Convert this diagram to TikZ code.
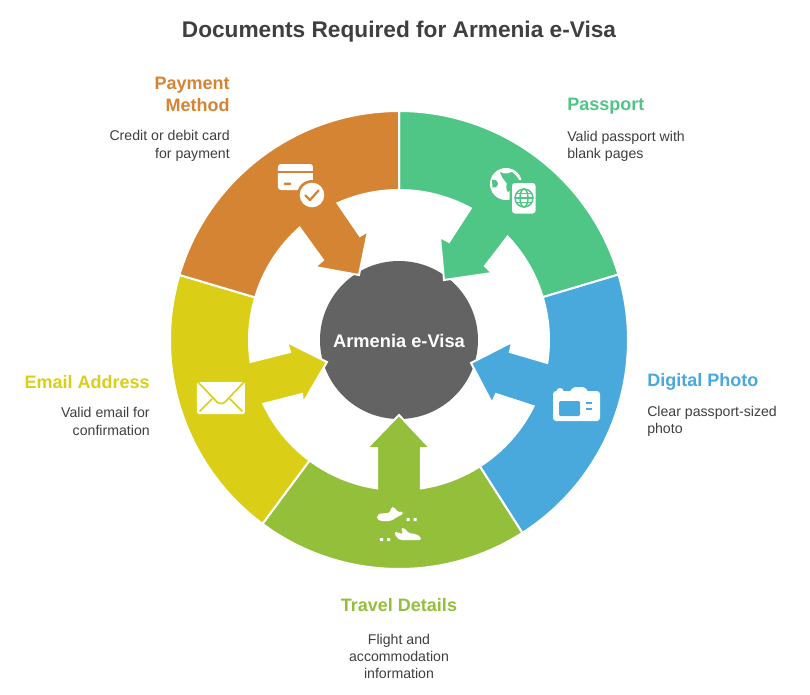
\documentclass[tikz,border=0pt]{standalone}
\usepackage{fontspec}
\setmainfont{Liberation Sans}
\definecolor{cOrange}{HTML}{D58433}
\definecolor{cGreen}{HTML}{50C686}
\definecolor{cBlue}{HTML}{49A9DC}
\definecolor{cYellow}{HTML}{DBCE17}
\definecolor{cLime}{HTML}{93BF3A}
\definecolor{cGrey}{HTML}{636363}
\definecolor{cText}{HTML}{3F3F3F}
\tikzset{
  seg/.style={draw=white,line width=1.5pt,line join=miter},
  ttl/.style={font=\fontsize{17}{20}\selectfont\bfseries,text=cText,inner sep=0},
  hd/.style={font=\fontsize{13.5}{17}\selectfont\bfseries,inner sep=0},
  bd/.style={font=\fontsize{10.6}{13}\selectfont,text=cText,inner sep=0},
  ink/.style={fill=white,draw=none},
}
\begin{document}
\begin{tikzpicture}[x=0.75pt,y=0.75pt]
\useasboundingbox (-399,-354) rectangle (411,340);
\fill[white] (-399,-354) rectangle (411,340);
\fill[cGrey] (0,0) circle[radius=79];
% Passport
\filldraw[seg,fill=cGreen] (90:229) arc[start angle=90,end angle=16.6,radius=229]
 -- (16.6:150) arc[start angle=16.6,end angle=43.6,radius=150]
 -- (86,74) -- (93,67) -- (45,60) -- (41,103) -- (50,98) -- (61.4:150)
 arc[start angle=61.4,end angle=90,radius=150] -- cycle;
% Digital photo
\filldraw[seg,fill=cBlue] (16.6:229) arc[start angle=16.6,end angle=-57.4,radius=229]
 -- (-57.4:150) arc[start angle=-57.4,end angle=-26.2,radius=150]
 -- (97,-54) -- (93,-63) -- (72,-23) -- (113,-2) -- (111,-12) -- (-8.8:150)
 arc[start angle=-8.8,end angle=16.6,radius=150] -- cycle;
% Travel
\filldraw[seg,fill=cLime] (-57.4:229) arc[start angle=-57.4,end angle=-126.6,radius=229]
 -- (-126.6:150) arc[start angle=-126.6,end angle=-98.4,radius=150]
 -- (-22,-108) -- (-32,-108) -- (0,-75) -- (31,-108) -- (22,-108) -- (-81.6:150)
 arc[start angle=-81.6,end angle=-57.4,radius=150] -- cycle;
% Email
\filldraw[seg,fill=cYellow] (233.4:229) arc[start angle=233.4,end angle=163.5,radius=229]
 -- (163.5:150) arc[start angle=163.5,end angle=188.4,radius=150]
 -- (-109,-12) -- (-112,-2) -- (-72,-22) -- (-96,-63) -- (-97,-54) -- (205.2:150)
 arc[start angle=205.2,end angle=233.4,radius=150] -- cycle;
% Payment
\filldraw[seg,fill=cOrange] (163.5:229) arc[start angle=163.5,end angle=90,radius=229]
 -- (90:150) arc[start angle=90,end angle=114.2,radius=150]
 -- (-39,104) -- (-31,109) -- (-40,65) -- (-84,73) -- (-76,80) -- (131.5:150)
 arc[start angle=131.5,end angle=163.5,radius=150] -- cycle;

\begin{scope}[x=0.75pt,y=-0.75pt,shift={(-399,-340)}]
\node[ttl] (title) at (399,32) {Documents Required for Armenia e-Visa};
\node[font=\fontsize{13.7}{17}\selectfont\bfseries,text=white,inner sep=0] (hub) at (399,341) {Armenia e-Visa};
\node[hd,text=cOrange,align=right,anchor=east] (payH) at (230,94.5) {Payment\\Method};
\node[bd,align=right,anchor=east] (payB) at (230,146) {Credit or debit card\\for payment};
\node[hd,text=cGreen,anchor=west] (pasH) at (567,106) {Passport};
\node[bd,align=left,anchor=west] (pasB) at (567,146.5) {Valid passport with\\blank pages};
\node[hd,text=cBlue,anchor=west] (phoH) at (647,382) {Digital Photo};
\node[bd,align=left,anchor=west] (phoB) at (647,421.5) {Clear passport-sized\\photo};
\node[hd,text=cYellow,anchor=east] (emaH) at (150,382) {Email Address};
\node[bd,align=right,anchor=east] (emaB) at (150,421.5) {Valid email for\\confirmation};
\node[hd,text=cLime] (traH) at (399,605) {Travel Details};
\node[bd,align=center] (traB) at (399,656.5) {Flight and\\accommodation\\information};

% card icon
\fill[ink,rounded corners=2.2pt] (278,164) rectangle (313,190);
\fill[cOrange] (276,171) rectangle (315,172.6);
\fill[cOrange,rounded corners=.5pt] (284,182.5) rectangle (291,185);
\fill[cOrange] (312,195) circle[radius=15];
\fill[ink] (312,195) circle[radius=12.3];
\draw[cOrange,line width=1.7pt,line cap=round,line join=round] (305.5,195.5) -- (310,200) -- (318.5,190.5);
% passport icon
\fill[ink] (506,184) circle[radius=16];
\fill[cGreen] (500,172) .. controls (505,175) and (509,173) .. (512,172) .. controls (517,176) and (520,180) .. (520,184) -- (508,192) .. controls (504,188) and (509,183) .. (505,181) .. controls (502,179) and (502,176) .. cycle;
\fill[cGreen] (492,180) .. controls (495,179) and (498,181) .. (498,184) .. controls (497,187) and (495,189) .. (492.5,187.5) -- cycle;
\fill[cGreen,rounded corners=3pt] (509.5,180) rectangle (538,216);
\fill[ink,rounded corners=2.2pt] (512,183) rectangle (535.5,213.5);
\begin{scope}[cGreen,line width=1.1pt]
\draw (524,198) circle[radius=9];
\draw (524,198) ellipse[x radius=4,y radius=9];
\draw (515,198) -- (533,198);
\draw (516.5,193.5) -- (531.5,193.5);
\draw (516.5,202.5) -- (531.5,202.5);
\end{scope}
% camera icon
\fill[ink,rounded corners=2.4pt] (553,391) rectangle (600,421);
\fill[ink,rounded corners=2.2pt] (569,393) -- (573,387) -- (585,387) -- (589,393) -- cycle;
\fill[ink] (560,391) ellipse[x radius=3.5,y radius=3];
\fill[cBlue,rounded corners=1pt] (559,401) rectangle (580,416);
\fill[cBlue] (586,402) rectangle (592,404.2);
\fill[cBlue] (586,408) rectangle (592,410.2);
% envelope icon
\fill[ink,rounded corners=1.2pt] (197,382) rectangle (245,414);
\draw[cYellow,line width=1.2pt,line join=round] (197,381) -- (217,402) .. controls (219,404) and (223,404) .. (225,402) -- (245,381);
\draw[cYellow,line width=1.2pt,line cap=round] (200,411) -- (212,399) (242,411) -- (230,399);
% plane icons
\fill[ink,rounded corners=1.5pt] (377,516) -- (379,513.5) -- (390,513) -- (391,507) -- (395,507) -- (397,512) -- (403,511.5) -- (403.5,514) -- (397,517) -- (391,521) -- (380,521) -- (377,519) -- cycle;
\fill[ink] (406.5,518) rectangle (409.5,521) (413.5,518) rectangle (416.5,521);
\fill[ink,rounded corners=1.5pt] (394,532) -- (398,532) -- (401,534) -- (403,534) -- (401,528) -- (405,528) -- (408,533) -- (416,534) -- (421,537) -- (421,540) -- (400,540) -- (397,538) -- cycle;
\fill[ink] (380,538) rectangle (383,541) (387,538) rectangle (390,541);
\end{scope}
\end{tikzpicture}
\end{document}
